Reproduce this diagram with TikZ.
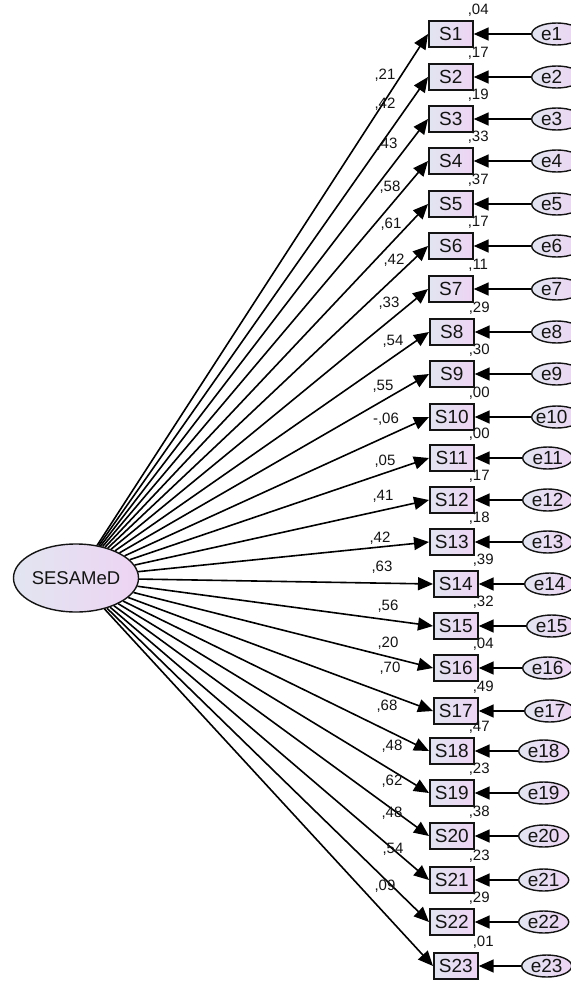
\documentclass[tikz,border=0pt]{standalone}
\usepackage{fontspec}
\setmainfont{Liberation Sans}
\usetikzlibrary{arrows.meta,shapes.geometric}
\definecolor{fillL}{RGB}{226,229,241}
\definecolor{fillR}{RGB}{237,212,243}
\definecolor{ink}{RGB}{20,20,20}
\begin{document}
\begin{tikzpicture}[x=1pt,y=-1pt,
  sbox/.style={draw=ink, line width=1.7pt, rectangle, minimum width=44pt, minimum height=26pt,
    inner sep=0pt, left color=fillL, right color=fillR, text=ink,
    font=\fontsize{19}{21}\selectfont},
  ebox/.style={draw=ink, line width=1.4pt, ellipse, minimum width=50pt, minimum height=22pt,
    inner sep=0pt, left color=fillL, right color=fillR, text=ink,
    font=\fontsize{19}{21}\selectfont},
  fbox/.style={draw=ink, line width=1.4pt, ellipse, minimum width=122pt, minimum height=68pt,
    inner sep=0pt, left color=fillL, right color=fillR, text=ink,
    font=\fontsize{18.5}{21}\selectfont},
  arr/.style={draw=black, line width=1.6pt, -{Triangle[length=15pt,width=13pt]}},
  lab/.style={text=ink, inner sep=0pt, font=\fontsize{15}{17}\selectfont}]
\useasboundingbox (0,0) rectangle (570,982);
\fill[white] (0,0) rectangle (570,982);
\node[fbox] (F) at (76,578) {SESAMeD};
\foreach \k/\bx/\by/\ex/\lx/\ly/\lv/\vv in {
  1/428/34/531/385/75/{,21}/{,04},
  2/428/77/531/385/103/{,42}/{,17},
  3/428/119/531/387/143/{,43}/{,19},
  4/428/161/531/390/186/{,58}/{,33},
  5/428/204/531/391/223/{,61}/{,37},
  6/428/246/531/394/259/{,42}/{,17},
  7/428/289/531/389/302/{,33}/{,11},
  8/429/332/531/393/340/{,54}/{,29},
  9/429/374/531/383/385/{,55}/{,30},
  10/429/417/531/386/418/{-,06}/{,00},
  11/429/458/522/385/460/{,05}/{,00},
  12/429/500/522/383/495/{,41}/{,17},
  13/429/542/522/380/537/{,42}/{,18},
  14/433/584/524/382/566/{,63}/{,39},
  15/433/626/526/388/605/{,56}/{,32},
  16/433/668/522/388/642/{,20}/{,04},
  17/433/711/524/390/667/{,70}/{,49},
  18/429/751/518/387/705/{,68}/{,47},
  19/429/793/518/392/745/{,48}/{,23},
  20/429/836/518/392/780/{,62}/{,38},
  21/429/880/518/392/812/{,48}/{,23},
  22/429/922/518/393/848/{,54}/{,29},
  23/433/966/521/385/885/{,09}/{,01}}{
  \node[sbox, anchor=west] (S\k) at (\bx,\by) {S\k};
  \node[ebox, anchor=west] (e\k) at (\ex,\by) {\ifnum\ex=531 \hspace*{-10pt}\fi e\k};
  \draw[arr] (e\k) -- (S\k);
  \draw[arr] (F) -- (S\k.west);
  \node[lab, anchor=base] at (\lx,\ly+5) {\lv};
  \node[lab, anchor=base] at ([shift={(4.5,-6)}]S\k.north east) {\vv};
}
\end{tikzpicture}
\end{document}
